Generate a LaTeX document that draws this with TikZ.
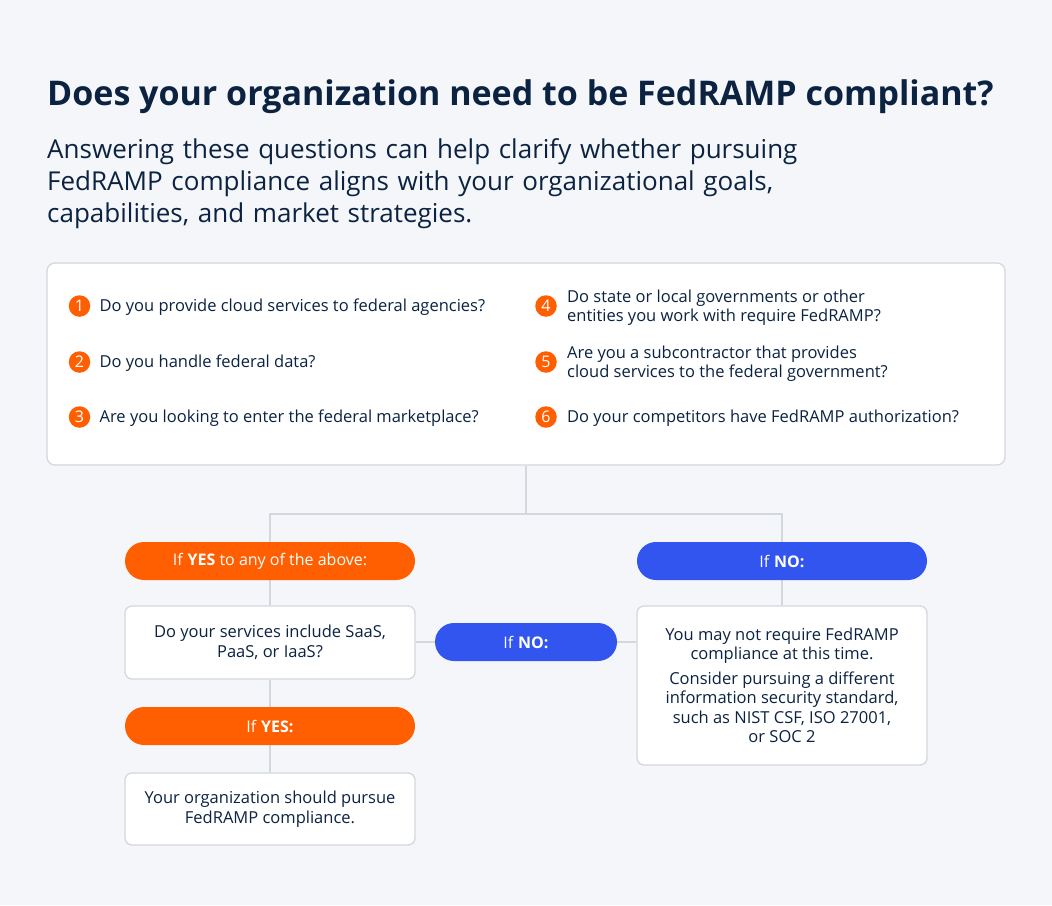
\documentclass[tikz,border=0pt]{standalone}
\usepackage{fontspec}
\setmainfont{Open Sans}
\usetikzlibrary{positioning,backgrounds}
\definecolor{bg}{HTML}{F5F6FA}
\definecolor{ink}{HTML}{0B2341}
\definecolor{orng}{HTML}{FF5F00}
\definecolor{blu}{HTML}{3155EE}
\definecolor{edge}{HTML}{D3D7DE}
\tikzset{
  num/.style={circle, fill=orng, text=white, minimum size=21.5pt, inner sep=0pt,
    font=\fontsize{16}{16}\selectfont},
  qtext/.style={text=ink, inner sep=0pt, align=left, yshift=-1.5pt,
    font=\fontsize{16.5}{19.5}\selectfont},
  pill/.style={rounded corners=19pt, minimum height=38pt, minimum width=290pt,
    inner sep=0pt, text=white, font=\fontsize{16}{19}\selectfont},
  yes/.style={pill, fill=orng},
  no/.style={pill, fill=blu},
  card/.style={draw=edge, line width=1.3pt, fill=white, rounded corners=7pt,
    minimum width=290pt, inner sep=0pt, align=center, text=ink,
    font=\fontsize{16.5}{19.5}\selectfont},
  link/.style={draw=edge, line width=1.5pt}
}
\begin{document}
\begin{tikzpicture}[x=1pt,y=-1pt]
  \useasboundingbox (0,0) rectangle (1052,905);
  % heading
  \node[anchor=base west, inner sep=0pt, text=ink, font=\fontsize{34}{40}\selectfont\bfseries]
    (title) at (47,105.5) {Does your organization need to be FedRAMP compliant?};
  \node[anchor=base west, inner sep=0pt, text=ink, text width=900pt, align=left,
    font=\fontsize{26}{32.3}\selectfont] (intro) at (47,158)
    {Answering these questions can help clarify whether pursuing\\
     FedRAMP compliance aligns with your organizational goals,\\
     capabilities, and market strategies.};
  % questions
  \node[draw=edge, line width=1.3pt, fill=white, rounded corners=8pt, minimum width=958pt,
    minimum height=202pt] (qbox) at (526,364) {};
  \node[num] (c1) at (79.5,306) {1};
  \node[num] (c2) at (79.5,362) {2};
  \node[num] (c3) at (79.5,417) {3};
  \node[num] (c4) at (546,306) {4};
  \node[num] (c5) at (546,362) {5};
  \node[num] (c6) at (546,417) {6};
  \node[qtext, right=9pt of c1] (q1) {Do you provide cloud services to federal agencies?};
  \node[qtext, right=9pt of c2] (q2) {Do you handle federal data?};
  \node[qtext, right=9pt of c3] (q3) {Are you looking to enter the federal marketplace?};
  \node[qtext, right=10pt of c4] (q4) {Do state or local governments or other\\entities you work with require FedRAMP?};
  \node[qtext, right=10pt of c5] (q5) {Are you a subcontractor that provides\\cloud services to the federal government?};
  \node[qtext, right=10pt of c6] (q6) {Do your competitors have FedRAMP authorization?};
  % flow
  \node[yes] (yes1) at (270,561) {\raisebox{-1.5pt}{If \textbf{YES} to any of the above:}};
  \node[no] (no1) at (782,561) {\raisebox{-1.5pt}{If \textbf{NO:}}};
  \node[card, minimum height=73pt] (saas) at (270,642.5)
    {Do your services include SaaS,\\PaaS, or IaaS?};
  \node[no, minimum width=182pt] (no2) at (526,642) {\raisebox{-1.5pt}{If \textbf{NO:}}};
  \node[card, minimum height=159pt] (skip) at (782,685.5)
    {You may not require FedRAMP\\compliance at this time.\\[5pt]
     Consider pursuing a different\\information security standard,\\
     such as NIST CSF, ISO 27001,\\or SOC 2};
  \node[yes] (yes2) at (270,726) {\raisebox{-1.5pt}{If \textbf{YES:}}};
  \node[card, minimum height=72pt] (go) at (270,809)
    {Your organization should pursue\\FedRAMP compliance.};
  \coordinate (split) at (526,514);
  \begin{scope}[on background layer]
    \fill[bg] (0,0) rectangle (1052,905);
    \draw[link] (qbox.south) -- (split);
    \draw[link] (yes1.north) |- (split) -| (no1.north);
    \draw[link] (yes1.south) -- (saas.north);
    \draw[link] (saas.south) -- (yes2.north);
    \draw[link] (yes2.south) -- (go.north);
    \draw[link] (no1.south) -- (skip.north);
    \draw[link] (saas.east |- no2.west) -- (no2.west);
    \draw[link] (no2.east) -- (no2.east -| skip.west);
  \end{scope}
\end{tikzpicture}
\end{document}
